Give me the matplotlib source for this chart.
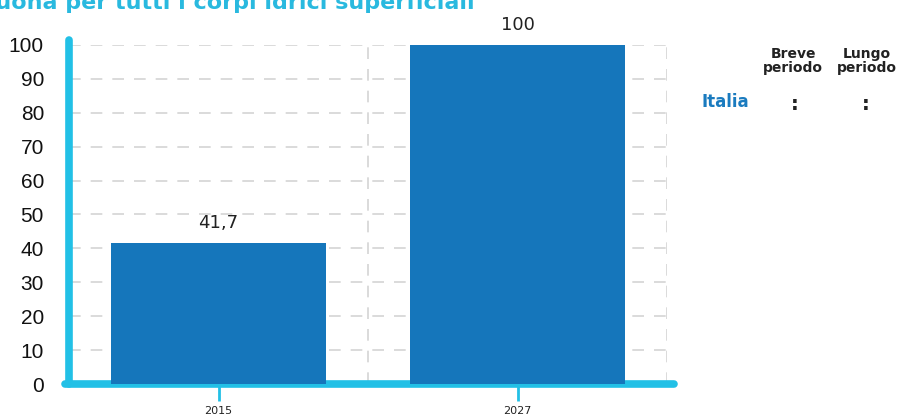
import matplotlib
matplotlib.use("Agg")
import matplotlib.pyplot as plt
from matplotlib.lines import Line2D

categories = ["2015", "2027"]
values = [41.7, 100]
value_labels = ["41,7", "100"]
yticks = [0, 10, 20, 30, 40, 50, 60, 70, 80, 90, 100]
title = "Qualità buona per tutti i corpi idrici superficiali"
table_cols = ["Breve\nperiodo", "Lungo\nperiodo"]
table_row = "Italia"
table_vals = [":", ":"]

W, H = 899, 419
fig = plt.figure(figsize=(W / 100, H / 100), dpi=100)
cyan = "#22c0e6"
bar_c = "#1576bb"

L, R, B, T = 69, 667, 384, 45
ax = fig.add_axes([L / W, (H - B) / H, (R - L) / W, (B - T) / H])
ax.set_xlim(-0.5, 1.5)
ax.set_ylim(0, 100)
x = list(range(len(categories)))
ax.bar(x, values, width=0.72, color=bar_c, zorder=3)
for xi, v, lab in zip(x, values, value_labels):
    ax.annotate(lab, (xi, v), xytext=(0, 8), textcoords="offset points",
                ha="center", va="bottom", fontsize=13, color="#222222")

for s in ax.spines.values():
    s.set_visible(False)
ax.set_yticks(yticks)
ax.set_yticklabels([str(t) for t in yticks], fontsize=15, fontfamily="Liberation Sans", color="#111111")
ax.tick_params(axis="y", length=0, pad=18)
ax.set_xticks(x)
ax.set_xticklabels(categories, fontsize=8, color="#222222")
ax.tick_params(axis="x", length=12, width=2, color=cyan, pad=4)

for t in yticks[1:]:
    ax.axhline(t, color="#d4d4d4", lw=1.2, ls=(0, (7, 6)), zorder=1)
for xv in [0.5, 1.5]:
    ax.axvline(xv, color="#d4d4d4", lw=1.2, ls=(0, (7, 6)), zorder=1)

# axis lines (thick rounded)
ax.add_line(Line2D([-0.5, -0.5], [0, 101.5], color=cyan, lw=5.5, solid_capstyle="round",
                   clip_on=False, zorder=2))
ax.add_line(Line2D([-0.513, 1.525], [0, 0], color=cyan, lw=5.5, solid_capstyle="round",
                   clip_on=False, zorder=2))

# title, partly outside the canvas as in the reference
fig.text(475 / W, 1 - 9 / H, title, ha="right", va="baseline", fontsize=16,
         fontweight="bold", color="#29b9df")

# side table
for cx, lab in zip([793, 867], table_cols):
    fig.text(cx / W, 1 - 61 / H, lab, ha="center", va="center", fontsize=10,
             fontweight="bold", color="#222222", linespacing=1.0)
fig.text(725 / W, 1 - 102 / H, table_row, ha="center", va="center", fontsize=12,
         fontweight="bold", color="#1a7bbf")
for cx, v in zip([795, 866], table_vals):
    fig.text(cx / W, 1 - 104 / H, v, ha="center", va="center", fontsize=14,
             fontweight="bold", color="#222222")

fig.savefig("out.png", dpi=100)
